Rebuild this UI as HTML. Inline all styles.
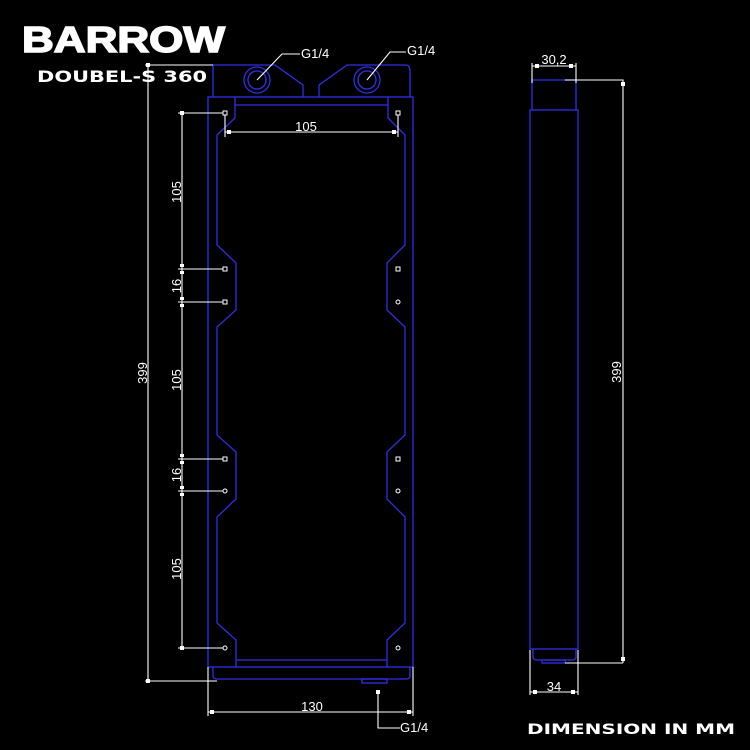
<!DOCTYPE html>
<html><head><meta charset="utf-8"><style>
html,body{margin:0;padding:0;background:#000;}
svg{display:block;}
.b{stroke:#2f2fe6;stroke-width:1.3;fill:none;}
.w{stroke:#fff;stroke-width:1.1;fill:none;}
.t{fill:#fff;font-family:"Liberation Sans",sans-serif;font-size:13px;}
</style></head><body>
<svg width="750" height="750" viewBox="0 0 750 750" xmlns="http://www.w3.org/2000/svg">
<rect width="750" height="750" fill="#000"/>
<!-- Logo -->
<text x="22" y="52" fill="#fff" stroke="#fff" stroke-width="1.5" font-family="Liberation Sans,sans-serif" font-weight="bold" font-size="36" textLength="203" lengthAdjust="spacingAndGlyphs">BARROW</text>
<text x="37" y="82" fill="#fff" font-family="DejaVu Sans,Liberation Sans,sans-serif" font-weight="bold" font-size="16" textLength="170" lengthAdjust="spacingAndGlyphs">DOUBEL-S 360</text>
<text x="527" y="734" fill="#fff" font-family="DejaVu Sans,Liberation Sans,sans-serif" font-weight="bold" font-size="14.5" textLength="208" lengthAdjust="spacingAndGlyphs">DIMENSION IN MM</text>

<!-- Front view blue -->
<g class="b">
<rect x="208" y="97" width="205" height="570"/>
<path d="M213,97 V65 H275 L303,85 V97"/>
<path d="M319,97 V85 L347,65 H406 Q410,65 410,72 V97"/>
<circle cx="257" cy="80" r="13"/><circle cx="257" cy="80" r="9"/>
<circle cx="367" cy="80" r="13"/><circle cx="367" cy="80" r="9"/>
<path d="M235,97 V105 H388 V97"/>
<path d="M235,105 V118 L217,135 V245 L236,263 V310 L217,327 V435 L236,452 V499 L217,517 V623 L236,640 V667"/>
<path d="M388,105 V118 L405,135 V245 L387,263 V310 L405,327 V435 L387,452 V499 L405,517 V623 L387,640 V667"/>
<path d="M236,660 H387"/>
<path d="M213,667 V676 Q213,679 217,679 H406 Q410,679 410,676 V667"/>
<rect x="362" y="679" width="25" height="4"/>
<!-- side view -->
<path d="M532,110 V80 H576 V110"/>
<rect x="530" y="110" width="48" height="539"/>
<path d="M533,649 V657 Q533,660 537,660 H572 Q576,660 576,657 V649"/>
<rect x="542" y="660" width="23" height="3"/>
</g>

<!-- holes -->
<g stroke="#fff" stroke-width="1" fill="none">
<rect x="223" y="111" width="4" height="4"/><rect x="223" y="267" width="4" height="4"/><rect x="223" y="300" width="4" height="4"/>
<rect x="223" y="457" width="4" height="4"/><circle cx="225" cy="491" r="2"/><circle cx="225" cy="648" r="2"/>
<rect x="396" y="111" width="4" height="4"/><rect x="396" y="267" width="4" height="4"/><circle cx="398" cy="302" r="2"/>
<rect x="396" y="457" width="4" height="4"/><circle cx="398" cy="491" r="2"/><circle cx="398" cy="648" r="2"/>
</g>

<!-- dimensions white -->
<g class="w">
<path d="M182,113 V648"/>
<path d="M178,113 H223 M178,269 H223 M178,302 H223 M178,459 H223 M178,491 H223 M178,648 H223"/>
<path d="M148,65 V681"/>
<path d="M145,65 H213 M145,681 H217"/>
<path d="M225,115 V137 M398,115 V137 M225,132 H398"/>
<path d="M208,667 V716 M413,667 V716 M208,712 H413"/>
<path d="M378,690 V728 H400"/>
<path d="M257,80 L282,54 H300"/>
<path d="M367,80 L390,52 H406"/>
<path d="M532,63 V83 M576,63 V83 M532,66 H576"/>
<path d="M530,650 V695 M578,650 V695 M530,692 H578"/>
<path d="M565,80 H623 V663 M565,663 H623"/>
</g>
<g fill="#fff">
<rect x="180" y="111" width="4" height="4"/><rect x="180" y="646" width="4" height="4"/>
<rect x="180" y="264" width="4" height="3"/><rect x="180" y="271" width="4" height="3"/><rect x="180" y="297" width="4" height="3"/><rect x="180" y="304" width="4" height="3"/>
<rect x="180" y="454" width="4" height="3"/><rect x="180" y="461" width="4" height="3"/><rect x="180" y="486" width="4" height="3"/><rect x="180" y="493" width="4" height="3"/>
<rect x="146" y="63" width="4" height="4"/><rect x="146" y="679" width="4" height="4"/>
<rect x="227" y="130" width="4" height="4"/><rect x="392" y="130" width="4" height="4"/>
<rect x="210" y="710" width="4" height="4"/><rect x="407" y="710" width="4" height="4"/>
<rect x="376" y="690" width="4" height="4"/>
<rect x="535" y="64" width="4" height="4"/><rect x="569" y="64" width="4" height="4"/>
<rect x="533" y="690" width="4" height="4"/><rect x="571" y="690" width="4" height="4"/>
<rect x="621" y="82" width="4" height="4"/><rect x="621" y="657" width="4" height="4"/>
</g>

<!-- labels -->
<text class="t" x="306" y="131" text-anchor="middle">105</text>
<text class="t" x="312" y="711" text-anchor="middle">130</text>
<text class="t" x="554" y="64" text-anchor="middle">30,2</text>
<text class="t" x="554" y="691" text-anchor="middle">34</text>
<text class="t" x="301" y="58" font-size="9">G1/4</text>
<text class="t" x="407" y="55" font-size="9">G1/4</text>
<text class="t" x="400" y="732" font-size="9">G1/4</text>
<g class="t" text-anchor="middle">
<text transform="translate(181,192) rotate(-90)">105</text>
<text transform="translate(181,286) rotate(-90)">16</text>
<text transform="translate(181,380) rotate(-90)">105</text>
<text transform="translate(181,475) rotate(-90)">16</text>
<text transform="translate(181,569) rotate(-90)">105</text>
<text transform="translate(147,373) rotate(-90)">399</text>
<text transform="translate(621,372) rotate(-90)">399</text>
</g>
</svg>
</body></html>
